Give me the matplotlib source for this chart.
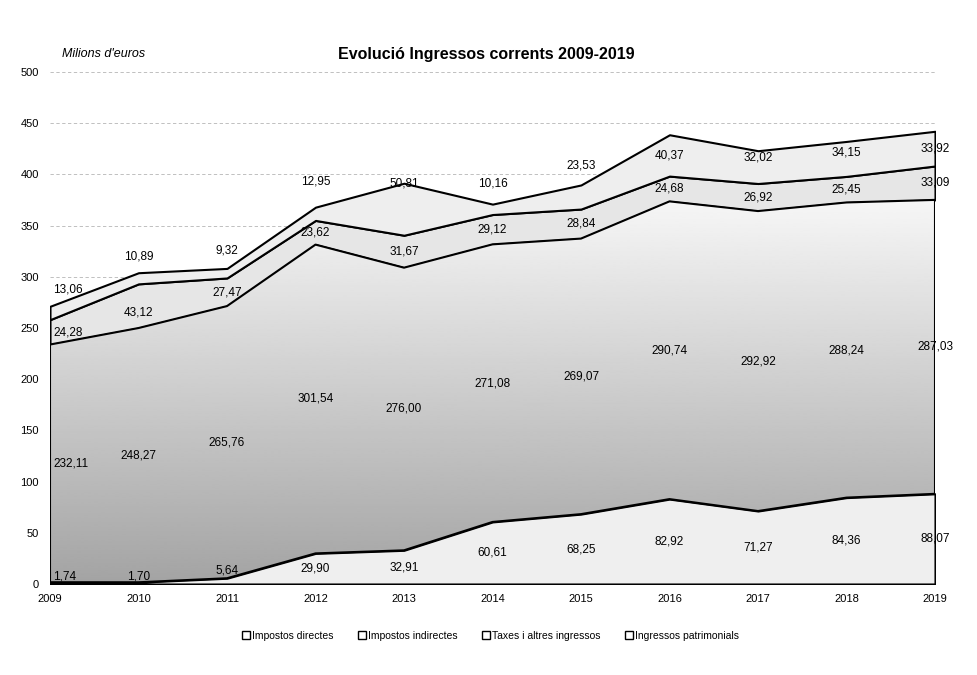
import matplotlib.pyplot as plt
import numpy as np
from matplotlib.lines import Line2D

# data (milions d'euros)
years = list(range(2009, 2020))
directes = [1.74, 1.70, 5.64, 29.90, 32.91, 60.61, 68.25, 82.92, 71.27, 84.36, 88.07]
indirectes = [232.11, 248.27, 265.76, 301.54, 276.00, 271.08, 269.07, 290.74, 292.92, 288.24, 287.03]
taxes = [24.28, 43.12, 27.47, 23.62, 31.67, 29.12, 28.84, 24.68, 26.92, 25.45, 33.09]
patrimonials = [13.06, 10.89, 9.32, 12.95, 50.81, 10.16, 23.53, 40.37, 32.02, 34.15, 33.92]
names = ["Impostos directes", "Impostos indirectes", "Taxes i altres ingressos", "Ingressos patrimonials"]
y_ticks = list(range(0, 501, 50))

# label nudges in pixels (up) relative to the middle of each band
nudges = [
    [7, 7, 11, 0, 0, 0, 0, 0, 0, 0, 0],
    [0] * 11,
    [0, -7, 0, 0, 0, 0, 0, 0, 0, 0, 0],
    [23, 22, 23, 32, 26, 26, 32, 0, 10, 6, 0],
]
colors = ["#efefef", "#c2c2c2", "#e6e6e6", "#eeeeee"]

plt.rcParams["font.family"] = ["Liberation Sans Narrow", "Liberation Sans", "DejaVu Sans"]

fig = plt.figure(figsize=(9.78, 6.75), dpi=100)
ax = fig.add_axes([50 / 978, 1 - 584 / 675, 885 / 978, 512 / 675])

series = [directes, indirectes, taxes, patrimonials]
polys = ax.stackplot(years, *series, colors=colors, edgecolor="black", linewidth=1.5, zorder=2)

# the scanned "indirectes" band fades from mid grey at the bottom to near white on top
grad = np.linspace(0.64, 0.97, 256).reshape(-1, 1)
img = ax.imshow(grad, extent=[2009, 2019, 0, 380], origin="lower", cmap="gray",
                vmin=0, vmax=1, aspect="auto", zorder=2.1, interpolation="bilinear")
img.set_clip_path(polys[1].get_paths()[0], ax.transData)
polys[1].set_facecolor("none")
polys[1].set_zorder(2.2)

ax.set_xlim(2009, 2019)
ax.set_ylim(0, 500)
ax.set_xticks(years)
ax.set_yticks(y_ticks)
ax.tick_params(length=0, labelsize=8)
ax.tick_params(axis="y", pad=8)
ax.tick_params(axis="x", pad=7)
for s in ax.spines.values():
    s.set_visible(False)
ax.yaxis.grid(True, color="#b5b5b5", linestyle=(0, (4, 3)), linewidth=0.6, zorder=1)
ax.set_axisbelow(True)

base = [0.0] * len(years)
for k, vals in enumerate(series):
    for i, (x, v) in enumerate(zip(years, vals)):
        mid = base[i] + v / 2
        ha = "center"
        dx = 0
        if i == 0:
            ha = "left"
            dx = 3
        ax.annotate(f"{v:.2f}".replace(".", ","), (x, mid),
                    xytext=(dx, nudges[k][i]), textcoords="offset pixels",
                    ha=ha, va="center", fontsize=8.5, zorder=5, clip_on=False)
    base = [b + v for b, v in zip(base, vals)]

fig.text(0.497, 1 - 54 / 675, "Evolució Ingressos corrents 2009-2019",
         ha="center", va="center", fontsize=11.5, fontweight="bold")
fig.text(62 / 978, 1 - 54 / 675, "Milions d'euros", ha="left", va="center",
         fontsize=9, style="italic")

handles = [Line2D([], [], marker="s", linestyle="none", markersize=6,
                  markerfacecolor="white", markeredgecolor="black", markeredgewidth=1)
           for _ in names]
fig.legend(handles, names, loc="center", bbox_to_anchor=(490 / 978, 1 - 636 / 675),
           ncol=4, frameon=False, fontsize=7.5, handletextpad=0.1, columnspacing=2.2,
           handlelength=1)

fig.savefig("out.png", dpi=100)
